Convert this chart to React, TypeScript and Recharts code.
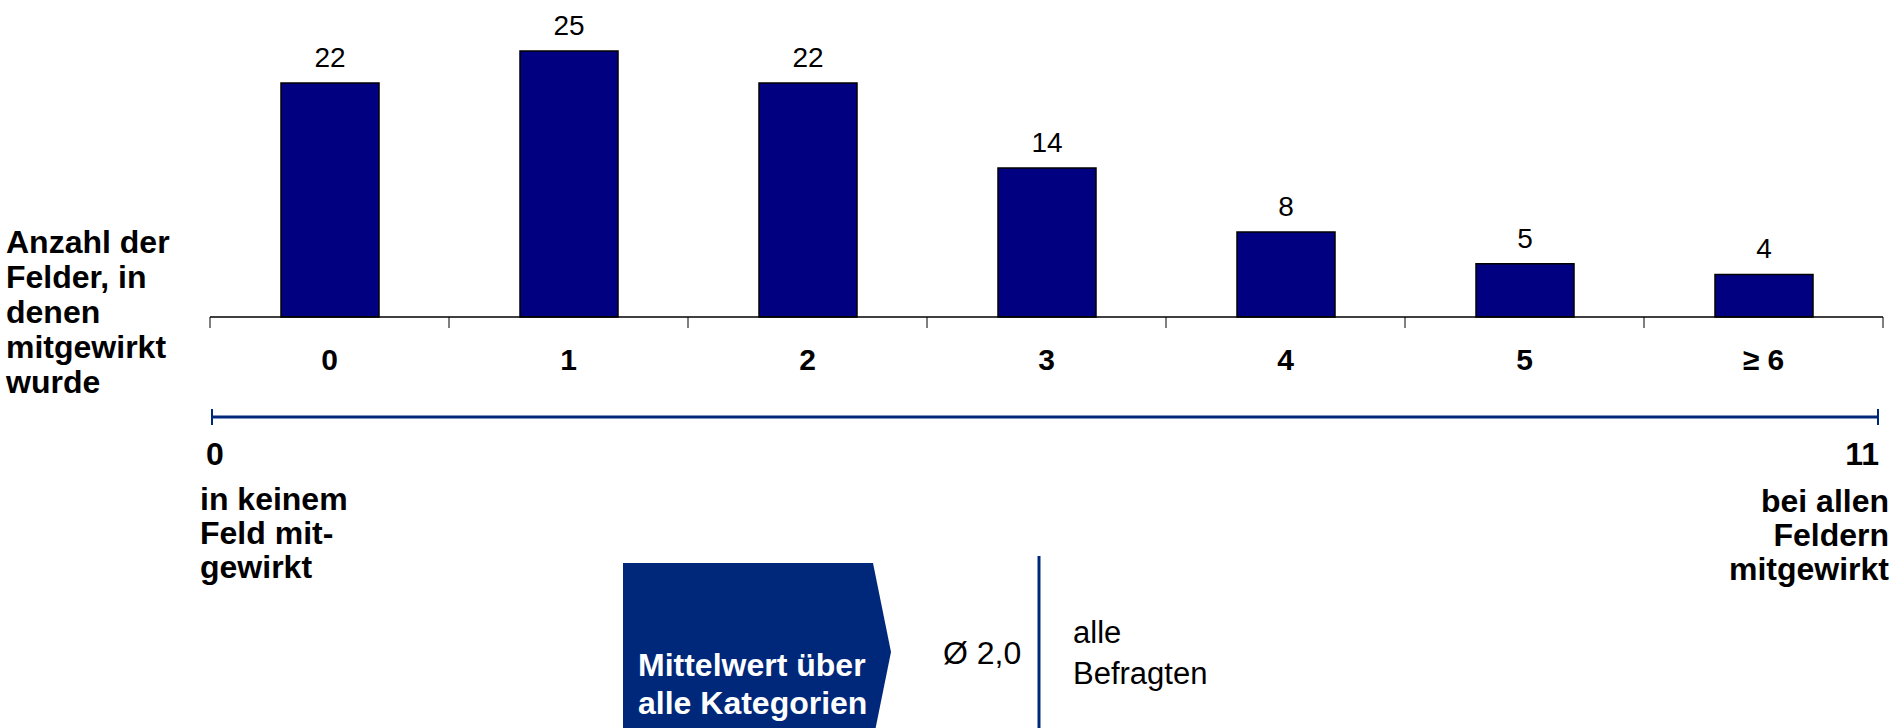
import { BarChart, Bar, XAxis, YAxis, LabelList } from 'recharts'

const categories = ['0', '1', '2', '3', '4', '5', '≥ 6']
const counts = [22, 25, 22, 14, 8, 5, 4]
const boundaryTicks = [0, 1, 2, 3, 4, 5, 6, 7]

const yAxisTitle = ['Anzahl der', 'Felder, in', 'denen', 'mitgewirkt', 'wurde']
const scaleMin = '0'
const scaleMax = '11'
const minCaption = ['in keinem', 'Feld mit-', 'gewirkt']
const maxCaption = ['bei allen', 'Feldern', 'mitgewirkt']
const meanBoxText = ['Mittelwert über', 'alle Kategorien']
const meanValue = 'Ø 2,0'
const meanGroup = ['alle', 'Befragten']

const data = categories.map((c, i) => ({ cat: c, idx: i + 0.5, n: counts[i] }))

const FONT = '"Liberation Sans", Arial, sans-serif'
const NAVY = '#000080'
const BLUE = '#00287a'

const W = 1895
const H = 728
const plotLeft = 210
const plotRight = 1883
const axisY = 317
const gridAxisH = 11
const catAxisH = 60

function CatTick(props: any) {
  const { x, payload } = props
  return (
    <text
      x={x}
      y={359}
      textAnchor="middle"
      dominantBaseline="central"
      fontFamily={FONT}
      fontWeight="bold"
      fontSize={30}
      fill="#000"
    >
      {payload.value}
    </text>
  )
}

export default function App() {
  return (
    <div style={{ position: 'absolute', left: 0, top: 0, width: W, height: H, background: '#fff' }}>
      <BarChart
        width={W}
        height={H}
        data={data}
        margin={{ top: 51, right: W - plotRight, bottom: H - axisY - gridAxisH - catAxisH, left: plotLeft }}
      >
        <YAxis hide domain={[0, 25]} />
        <XAxis
          xAxisId="a_grid"
          type="number"
          dataKey="idx"
          domain={[0, 7]}
          ticks={boundaryTicks}
          tickFormatter={() => ''}
          height={gridAxisH}
          tickSize={11}
          axisLine={{ stroke: '#000', strokeWidth: 1.5 }}
          tickLine={{ stroke: '#000', strokeWidth: 1 }}
          allowDataOverflow
        />
        <XAxis
          xAxisId="b_cat"
          dataKey="cat"
          height={catAxisH}
          tickSize={0}
          tickMargin={0}
          axisLine={false}
          tickLine={false}
          tick={<CatTick />}
          interval={0}
        />
        <Bar
          xAxisId="b_cat"
          dataKey="n"
          fill={NAVY}
          stroke="#000"
          strokeWidth={1.5}
          barSize={98}
          isAnimationActive={false}
        >
          <LabelList
            dataKey="n"
            position="top"
            offset={16}
            fontFamily={FONT}
            fontSize={28}
            fill="#000"
          />
        </Bar>
      </BarChart>

      <svg
        width={W}
        height={H}
        style={{ position: 'absolute', left: 0, top: 0, pointerEvents: 'none' }}
        fontFamily={FONT}
      >
        {yAxisTitle.map((t, i) => (
          <text key={t} x={6} y={242 + i * 35} dominantBaseline="central" fontWeight="bold" fontSize={32}>
            {t}
          </text>
        ))}

        <line x1={211} y1={417} x2={1879} y2={417} stroke={BLUE} strokeWidth={3} />
        <line x1={212} y1={409} x2={212} y2={425} stroke={BLUE} strokeWidth={2} />
        <line x1={1878} y1={409} x2={1878} y2={425} stroke={BLUE} strokeWidth={2} />

        <text x={206} y={454} dominantBaseline="central" fontWeight="bold" fontSize={32}>
          {scaleMin}
        </text>
        <text x={1879} y={454} textAnchor="end" dominantBaseline="central" fontWeight="bold" fontSize={32}>
          {scaleMax}
        </text>
        {minCaption.map((t, i) => (
          <text key={t} x={200} y={499 + i * 34} dominantBaseline="central" fontWeight="bold" fontSize={32}>
            {t}
          </text>
        ))}
        {maxCaption.map((t, i) => (
          <text
            key={t}
            x={1889}
            y={501 + i * 34}
            textAnchor="end"
            dominantBaseline="central"
            fontWeight="bold"
            fontSize={32}
          >
            {t}
          </text>
        ))}

        <polygon points="623,563 873,563 891,652 873,741 623,741" fill={BLUE} />
        {meanBoxText.map((t, i) => (
          <text
            key={t}
            x={638}
            y={665 + i * 38}
            dominantBaseline="central"
            fontWeight="bold"
            fontSize={32}
            fill="#fff"
          >
            {t}
          </text>
        ))}
        <text x={943} y={653} dominantBaseline="central" fontSize={32}>
          {meanValue}
        </text>
        <line x1={1039} y1={556} x2={1039} y2={H} stroke={BLUE} strokeWidth={3} />
        {meanGroup.map((t, i) => (
          <text key={t} x={1073} y={632 + i * 41} dominantBaseline="central" fontSize={31}>
            {t}
          </text>
        ))}
      </svg>
    </div>
  )
}
